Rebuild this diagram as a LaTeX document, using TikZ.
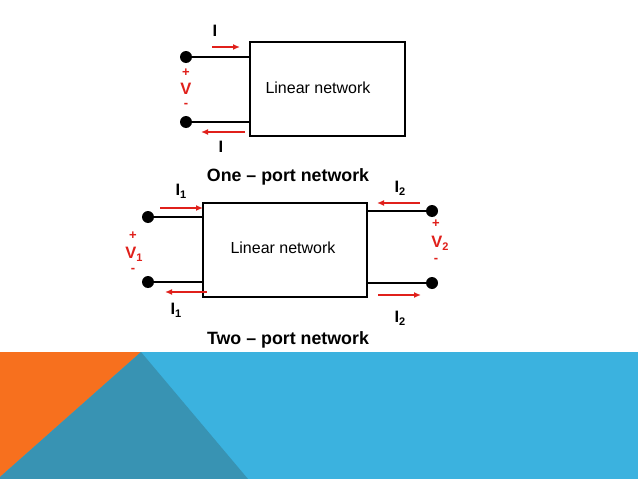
\documentclass[tikz,border=0pt]{standalone}
\usepackage{fontspec}
\setmainfont{Liberation Sans}
\usetikzlibrary{arrows.meta}
\definecolor{arrred}{HTML}{E0201B}
\definecolor{bandblue}{HTML}{3BB2DF}
\definecolor{bandteal}{HTML}{3893B3}
\definecolor{bandorange}{HTML}{F7701E}
\newcommand{\lowsub}[1]{\raisebox{-0.35ex}{\fontsize{11}{12}\selectfont #1}}
\tikzset{
  wire/.style={line width=2pt, black},
  term/.style={circle, fill=black, inner sep=0pt, minimum size=12pt},
  netbox/.style={draw, line width=2pt, inner sep=0pt},
  cur/.style={draw=arrred, line width=1.6pt, -{Latex[length=7pt,width=6pt]}},
  lbl/.style={font=\bfseries\fontsize{16.5}{18}\selectfont, inner sep=0pt},
  rlbl/.style={lbl, text=arrred},
  sgn/.style={font=\bfseries\fontsize{13}{14}\selectfont, inner sep=0pt, text=arrred},
  boxtxt/.style={font=\fontsize{16}{18}\selectfont, inner sep=0pt},
  title/.style={font=\bfseries\fontsize{17.8}{20}\selectfont, inner sep=0pt}
}
\begin{document}
\begin{tikzpicture}[x=1pt,y=-1pt]
\useasboundingbox (0,0) rectangle (638,479);
\fill[white] (0,0) rectangle (638,479);
% bottom band
\fill[bandblue] (0,352) rectangle (638,479);
\fill[bandorange] (0,352) -- (141,352) -- (0,477) -- cycle;
\fill[bandteal] (141,352) -- (248,479) -- (0,479) -- (0,477) -- cycle;
% one-port
\node[netbox, minimum width=155pt, minimum height=94pt] (box1) at (327.5,89) {};
\node[boxtxt] (lin1) at (318,88) {Linear network};
\node[term] (t1a) at (186,57) {};
\node[term] (t1b) at (186,122) {};
\coordinate (b1a) at (250,57);
\coordinate (b1b) at (250,122);
\draw[wire] (t1a.center) -- (b1a);
\draw[wire] (t1b.center) -- (b1b);
\coordinate (a1s) at (212,47); \coordinate (a1e) at (240,47);
\draw[cur] (a1s) -- (a1e);
\coordinate (a2s) at (245,132); \coordinate (a2e) at (201,132);
\draw[cur] (a2s) -- (a2e);
\node[lbl] (i1) at (215,31) {I};
\node[lbl] (i2) at (221,147) {I};
\node[sgn] (p1) at (186,73) {+};
\node[rlbl] (v1) at (186,89) {V};
\node[sgn] (m1) at (186,105) {-};
\node[title] (t1) at (288,177) {One – port network};
% two-port
\node[netbox, minimum width=164pt, minimum height=94pt] (box2) at (285,250) {};
\node[boxtxt] (lin2) at (283,248) {Linear network};
\node[term] (la) at (148,217) {};
\node[term] (lb) at (148,282) {};
\node[term] (ra) at (432,211) {};
\node[term] (rb) at (432,283) {};
\coordinate (bla) at (203,217);
\coordinate (blb) at (203,282);
\coordinate (bra) at (367,211);
\coordinate (brb) at (367,283);
\draw[wire] (la.center) -- (bla);
\draw[wire] (lb.center) -- (blb);
\draw[wire] (ra.center) -- (bra);
\draw[wire] (rb.center) -- (brb);
\coordinate (c1s) at (160,208); \coordinate (c1e) at (203,208);
\draw[cur] (c1s) -- (c1e);
\coordinate (c2s) at (207,292); \coordinate (c2e) at (165,292);
\draw[cur] (c2s) -- (c2e);
\coordinate (c3s) at (420,203); \coordinate (c3e) at (377,203);
\draw[cur] (c3s) -- (c3e);
\coordinate (c4s) at (378,295); \coordinate (c4e) at (421,295);
\draw[cur] (c4s) -- (c4e);
\node[lbl] (j1) at (181,191) {I\lowsub{1}};
\node[lbl] (j2) at (176,310) {I\lowsub{1}};
\node[lbl] (j3) at (400,188) {I\lowsub{2}};
\node[lbl] (j4) at (400,318) {I\lowsub{2}};
\node[sgn] (p2) at (133,236) {+};
\node[rlbl] (v2) at (134,254) {V\lowsub{1}};
\node[sgn] (m2) at (133,270) {-};
\node[sgn] (p3) at (436,224) {+};
\node[rlbl] (v3) at (440,243) {V\lowsub{2}};
\node[sgn] (m3) at (436,260) {-};
\node[title] (t2) at (288,340) {Two – port network};
\end{tikzpicture}
\end{document}
